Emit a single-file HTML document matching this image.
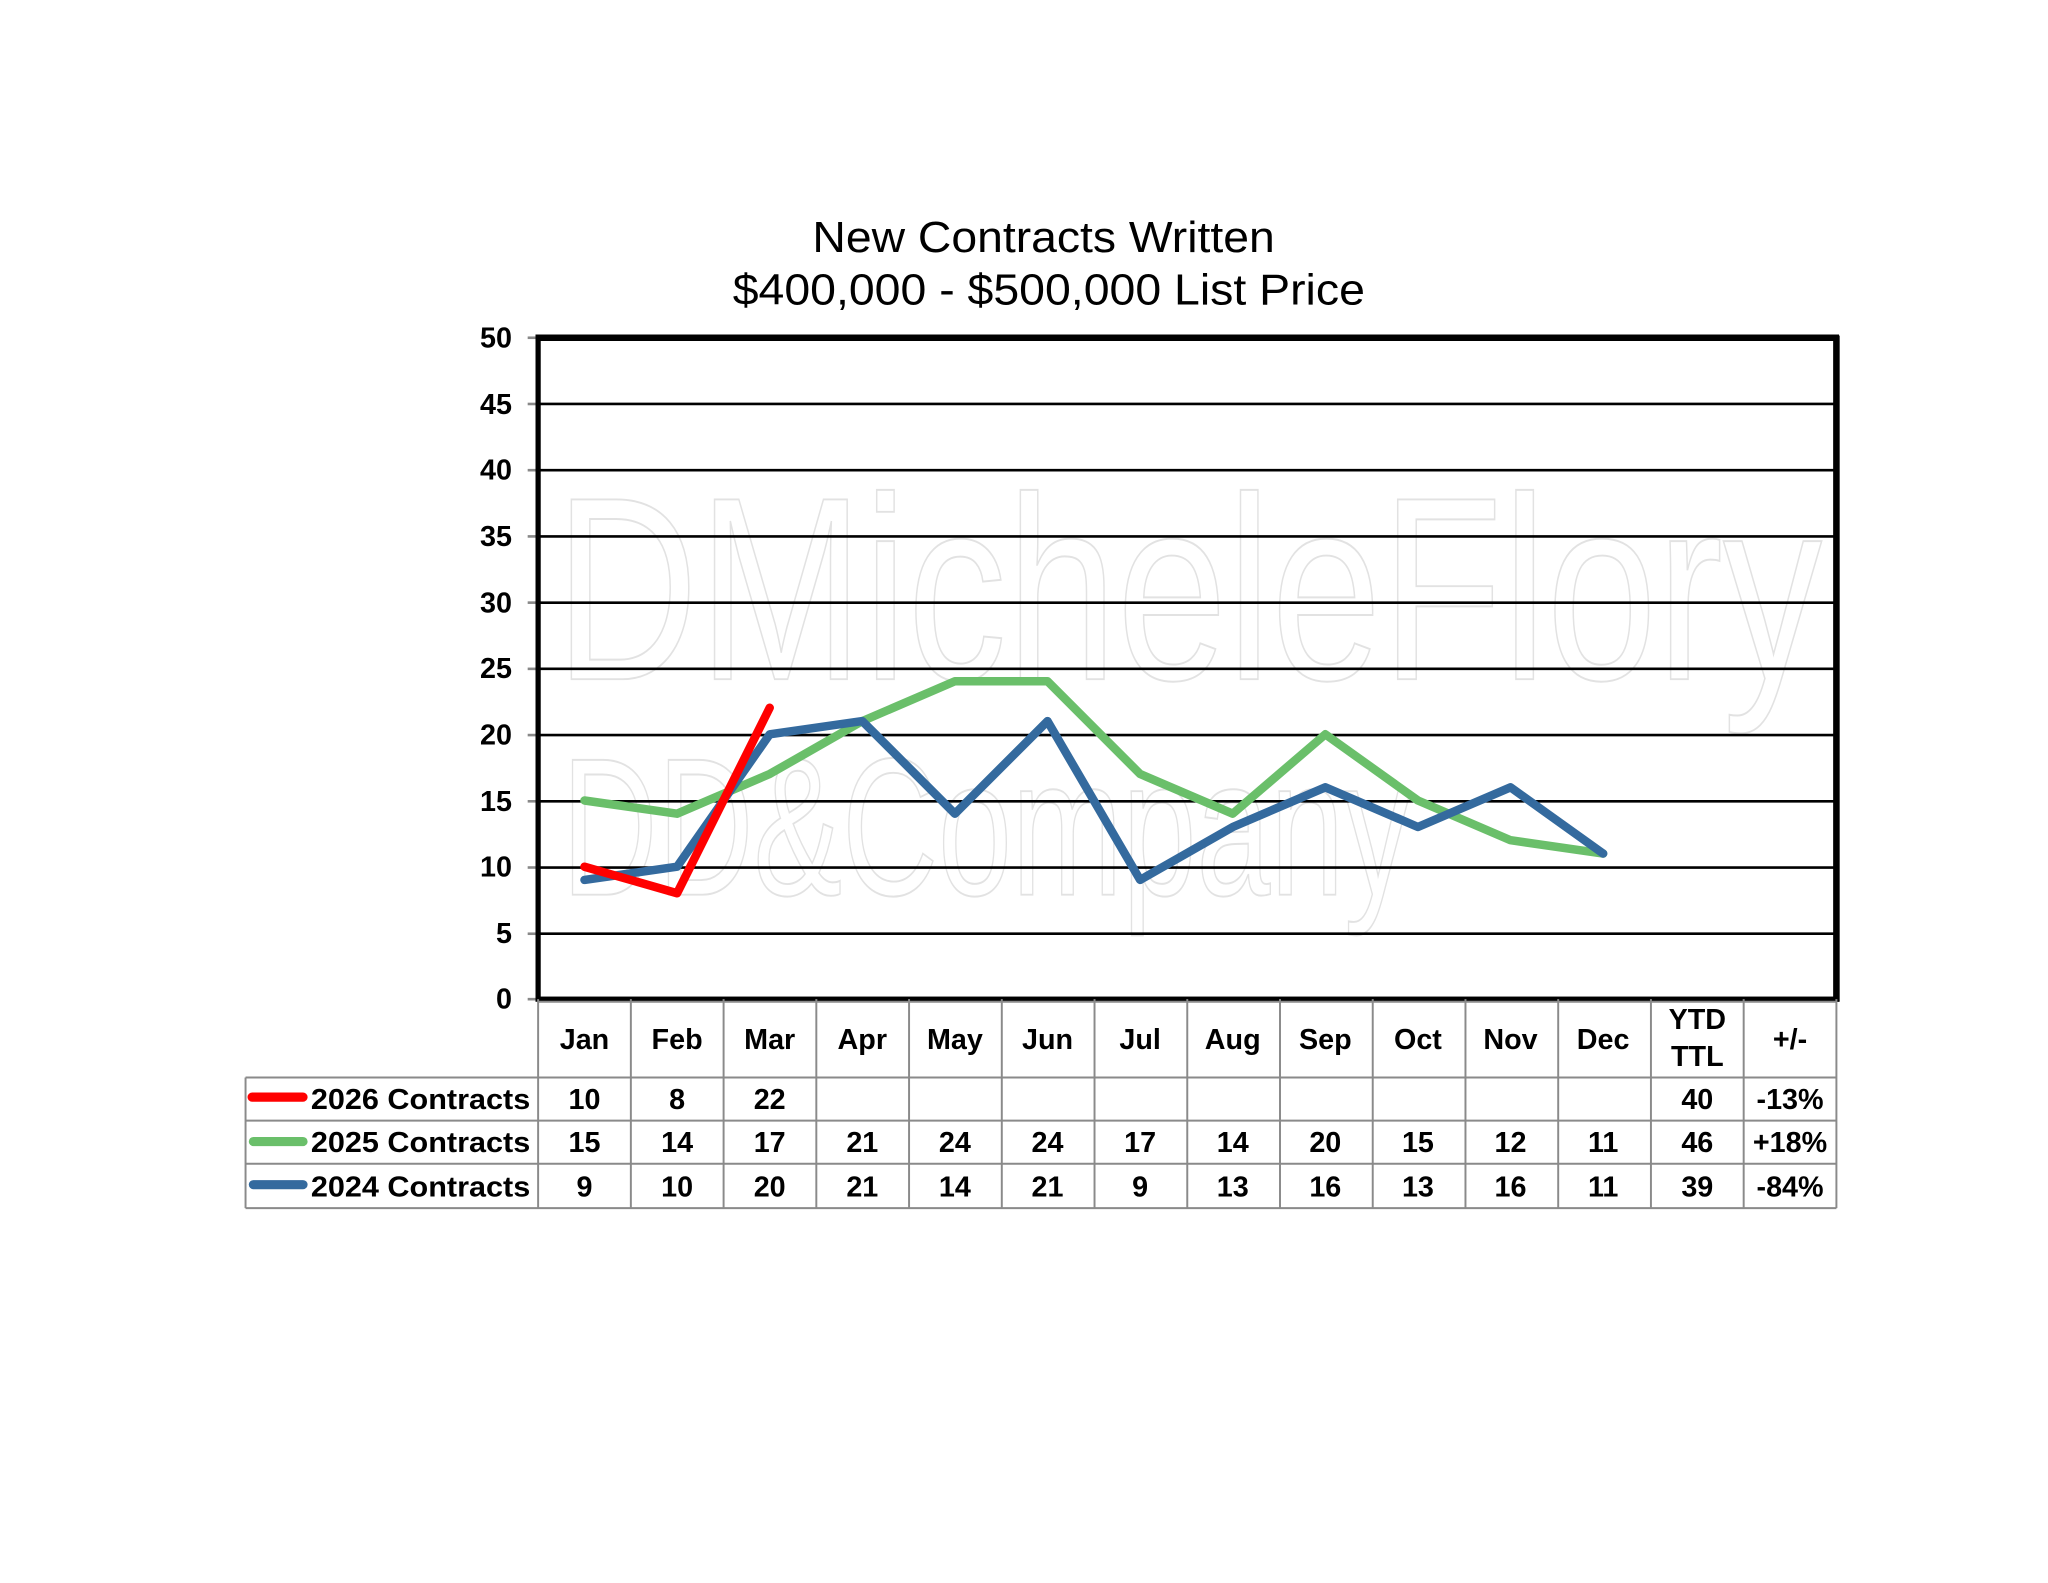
<!DOCTYPE html>
<html><head><meta charset="utf-8"><style>
html,body{margin:0;padding:0;background:#fff}
svg{display:block}
text{font-family:"Liberation Sans Narrow","Liberation Sans",sans-serif}
.b{font-weight:bold;font-size:22px}
</style></head><body>
<svg width="2048" height="1583" viewBox="0 0 1568 1212" preserveAspectRatio="none" xmlns="http://www.w3.org/2000/svg">
<rect width="1568" height="1212" fill="#fff"/>
<text x="799" y="193" font-size="33" text-anchor="middle" textLength="354" lengthAdjust="spacingAndGlyphs">New Contracts Written</text>
<text x="803" y="233" font-size="33" text-anchor="middle" textLength="484" lengthAdjust="spacingAndGlyphs">$400,000 - $500,000 List Price</text>
<!-- watermark -->
<g fill="none" stroke="#e2e2e2" stroke-width="1.5">
<text x="425" y="520" font-size="200" font-family="Liberation Sans" textLength="970" lengthAdjust="spacingAndGlyphs">DMicheleFlory</text>
<text x="430" y="685" font-size="150" font-family="Liberation Sans" textLength="650" lengthAdjust="spacingAndGlyphs">DD&amp;Company</text>
</g>
<!-- gridlines -->
<g stroke="#000" stroke-width="2">
<line x1="412" x2="1406" y1="309.3" y2="309.3"/>
<line x1="412" x2="1406" y1="360" y2="360"/>
<line x1="412" x2="1406" y1="410.7" y2="410.7"/>
<line x1="412" x2="1406" y1="461.4" y2="461.4"/>
<line x1="412" x2="1406" y1="512.1" y2="512.1"/>
<line x1="412" x2="1406" y1="562.8" y2="562.8"/>
<line x1="412" x2="1406" y1="613.5" y2="613.5"/>
<line x1="412" x2="1406" y1="664.2" y2="664.2"/>
<line x1="412" x2="1406" y1="714.9" y2="714.9"/>
</g>
<g stroke="#888" stroke-width="2">
<line x1="404" x2="412" y1="258.6" y2="258.6"/><line x1="404" x2="412" y1="309.3" y2="309.3"/>
<line x1="404" x2="412" y1="360" y2="360"/><line x1="404" x2="412" y1="410.7" y2="410.7"/>
<line x1="404" x2="412" y1="461.4" y2="461.4"/><line x1="404" x2="412" y1="512.1" y2="512.1"/>
<line x1="404" x2="412" y1="562.8" y2="562.8"/><line x1="404" x2="412" y1="613.5" y2="613.5"/>
<line x1="404" x2="412" y1="664.2" y2="664.2"/><line x1="404" x2="412" y1="714.9" y2="714.9"/>
<line x1="404" x2="412" y1="765" y2="765"/>
</g>
<g class="b" text-anchor="end" font-size="20" font-weight="bold">
<text x="392" y="266">50</text><text x="392" y="317">45</text><text x="392" y="367">40</text>
<text x="392" y="418">35</text><text x="392" y="469">30</text><text x="392" y="519">25</text>
<text x="392" y="570">20</text><text x="392" y="621">15</text><text x="392" y="671">10</text>
<text x="392" y="722">5</text><text x="392" y="772">0</text>
</g>
<!-- series -->
<g fill="none" stroke-width="6.5" stroke-linejoin="round" stroke-linecap="round">
<polyline stroke="#6abf6a" points="447.5,612.9 518.4,623 589.3,592.6 660.2,552.1 731.1,521.6 802,521.6 872.9,592.6 943.8,623 1014.7,562.2 1085.6,612.9 1156.5,643.3 1227.4,653.5"/>
<polyline stroke="#346a9e" points="447.5,673.7 518.4,663.6 589.3,562.2 660.2,552.1 731.1,623 802,552.1 872.9,673.7 943.8,633.2 1014.7,602.8 1085.6,633.2 1156.5,602.8 1227.4,653.5"/>
<polyline stroke="#ff0000" points="447.5,663.6 518.4,683.9 589.3,541.9"/>
</g>
<!-- plot frame -->
<rect x="412" y="258.6" width="994" height="506.4" fill="none" stroke="#000" stroke-width="4"/>
<line x1="1406" y1="257" x2="1406" y2="767" stroke="#000" stroke-width="5"/>
<line x1="410" y1="258.6" x2="1408" y2="258.6" stroke="#000" stroke-width="5"/>
<!-- table -->
<g stroke="#8a8a8a" stroke-width="1.5" fill="none">
<line x1="412" x2="1406" y1="767" y2="767"/>
<line x1="188" x2="1406" y1="825" y2="825"/>
<line x1="188" x2="1406" y1="858" y2="858"/>
<line x1="188" x2="1406" y1="891" y2="891"/>
<line x1="188" x2="1406" y1="925" y2="925"/>
<line x1="188" x2="188" y1="825" y2="925"/>
<line x1="412" x2="412" y1="765" y2="925"/><line x1="483" x2="483" y1="765" y2="925"/>
<line x1="554" x2="554" y1="765" y2="925"/><line x1="625" x2="625" y1="765" y2="925"/>
<line x1="696" x2="696" y1="765" y2="925"/><line x1="767" x2="767" y1="765" y2="925"/>
<line x1="838" x2="838" y1="765" y2="925"/><line x1="909" x2="909" y1="765" y2="925"/>
<line x1="980" x2="980" y1="765" y2="925"/><line x1="1051" x2="1051" y1="765" y2="925"/>
<line x1="1122" x2="1122" y1="765" y2="925"/><line x1="1193" x2="1193" y1="765" y2="925"/>
<line x1="1264" x2="1264" y1="765" y2="925"/><line x1="1335" x2="1335" y1="765" y2="925"/>
<line x1="1406" x2="1406" y1="765" y2="925"/>
</g>
<g stroke-width="7" stroke-linecap="round">
<line x1="193" x2="232" y1="840" y2="840" stroke="#ff0000"/>
<line x1="194" x2="232" y1="874" y2="874" stroke="#6abf6a"/>
<line x1="194" x2="232" y1="907" y2="907" stroke="#346a9e"/>
</g>
<g class="b">
<text x="238" y="849" textLength="168" lengthAdjust="spacingAndGlyphs">2026 Contracts</text>
<text x="238" y="882" textLength="168" lengthAdjust="spacingAndGlyphs">2025 Contracts</text>
<text x="238" y="916" textLength="168" lengthAdjust="spacingAndGlyphs">2024 Contracts</text>
</g>
<g class="b" text-anchor="middle">
<text x="447.5" y="803">Jan</text><text x="518.4" y="803">Feb</text><text x="589.3" y="803">Mar</text>
<text x="660.2" y="803">Apr</text><text x="731.1" y="803">May</text><text x="802" y="803">Jun</text>
<text x="872.9" y="803">Jul</text><text x="943.8" y="803">Aug</text><text x="1014.7" y="803">Sep</text>
<text x="1085.6" y="803">Oct</text><text x="1156.5" y="803">Nov</text><text x="1227.4" y="803">Dec</text>
<text x="1299.5" y="788">YTD</text><text x="1299.5" y="816">TTL</text><text x="1370.5" y="803">+/-</text>

<text x="447.5" y="849">10</text><text x="518.4" y="849">8</text><text x="589.3" y="849">22</text>
<text x="1299.5" y="849">40</text><text x="1370.5" y="849">-13%</text>

<text x="447.5" y="882">15</text><text x="518.4" y="882">14</text><text x="589.3" y="882">17</text>
<text x="660.2" y="882">21</text><text x="731.1" y="882">24</text><text x="802" y="882">24</text>
<text x="872.9" y="882">17</text><text x="943.8" y="882">14</text><text x="1014.7" y="882">20</text>
<text x="1085.6" y="882">15</text><text x="1156.5" y="882">12</text><text x="1227.4" y="882">11</text>
<text x="1299.5" y="882">46</text><text x="1370.5" y="882">+18%</text>

<text x="447.5" y="916">9</text><text x="518.4" y="916">10</text><text x="589.3" y="916">20</text>
<text x="660.2" y="916">21</text><text x="731.1" y="916">14</text><text x="802" y="916">21</text>
<text x="872.9" y="916">9</text><text x="943.8" y="916">13</text><text x="1014.7" y="916">16</text>
<text x="1085.6" y="916">13</text><text x="1156.5" y="916">16</text><text x="1227.4" y="916">11</text>
<text x="1299.5" y="916">39</text><text x="1370.5" y="916">-84%</text>
</g>
</svg>
</body></html>
